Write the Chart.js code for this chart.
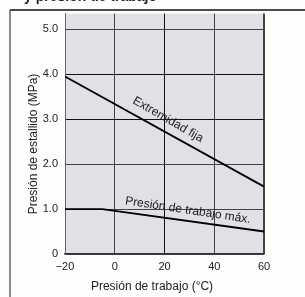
<!DOCTYPE html>
<html>
<head>
<meta charset="utf-8">
<script src="https://cdn.jsdelivr.net/npm/chart.js@4/dist/chart.umd.min.js"></script>
<style>
  html, body { margin: 0; padding: 0; background: #fdfdfb; }
  #wrap { width: 305px; height: 297px; }
</style>
</head>
<body>
<div id="wrap"><canvas id="chart-presion" width="305" height="297"></canvas></div>
<script>
// valores
const tempTicks = [-20, 0, 20, 40, 60];
const presTicks = [0, 1, 2, 3, 4, 5];

const tempFija = [-20, 60];
const presFija = [3.95, 1.5];

const tempMax = [-20, -5, 60];
const presMax = [1.0, 1.0, 0.5];

const labelFija = "Extremidad fija";
const labelMax = "Presión de trabajo máx.";
const yTitle = "Presión de estallido (MPa)";
const xTitle = "Presión de trabajo (°C)";
const topTitle = "y presión de trabajo";

const FONT = "'Liberation Sans', Arial, sans-serif";

const toPoints = (xs, ys) => xs.map((x, i) => ({ x, y: ys[i] }));

const decoPlugin = {
  id: "deco",
  beforeDraw: (chart) => {
    const { ctx, chartArea: a } = chart;
    ctx.save();
    ctx.fillStyle = "#fdfdfb";
    ctx.fillRect(0, 0, chart.width, chart.height);
    ctx.fillStyle = "#e1e1e5";
    ctx.fillRect(a.left, a.top, a.right - a.left, a.bottom - a.top);
    ctx.restore();
  },
  afterDraw: (chart) => {
    const { ctx, scales } = chart;
    const xs = scales.x, ys = scales.y;
    ctx.save();

    // marco exterior
    ctx.strokeStyle = "#666";
    ctx.lineWidth = 1.5;
    ctx.beginPath();
    ctx.moveTo(10, 10);
    ctx.lineTo(10, chart.height);
    ctx.stroke();
    ctx.strokeStyle = "#111";
    ctx.beginPath();
    ctx.moveTo(10, 10);
    ctx.lineTo(chart.width, 10);
    ctx.stroke();

    // titulo cortado arriba
    ctx.fillStyle = "#222";
    ctx.font = "bold 14px " + FONT;
    ctx.textBaseline = "alphabetic";
    ctx.fillText(topTitle, 24, 1);

    // titulos de ejes
    ctx.font = "12px " + FONT;
    ctx.textAlign = "center";
    ctx.textBaseline = "middle";
    ctx.fillText(xTitle, 152, 287);
    ctx.save();
    ctx.translate(33.5, 144);
    ctx.rotate(-Math.PI / 2);
    ctx.fillText(yTitle, 0, 0);
    ctx.restore();

    // etiquetas de las curvas
    const drawLabel = (text, x, y, deg) => {
      ctx.save();
      ctx.translate(xs.getPixelForValue(x), ys.getPixelForValue(y));
      ctx.rotate((deg * Math.PI) / 180);
      ctx.fillText(text, 0, 0);
      ctx.restore();
    };
    drawLabel(labelFija, 21.4, 2.99, 30);
    drawLabel(labelMax, 29.4, 0.97, 8.5);

    ctx.restore();
  },
};

const config = {
  type: "line",
  data: {
    datasets: [
      {
        label: labelFija,
        data: toPoints(tempFija, presFija),
        borderColor: "#000",
        borderWidth: 1.8,
        pointRadius: 0,
      },
      {
        label: labelMax,
        data: toPoints(tempMax, presMax),
        borderColor: "#000",
        borderWidth: 1.8,
        pointRadius: 0,
      },
    ],
  },
  options: {
    responsive: false,
    animation: false,
    layout: { padding: { top: 10, right: 41, left: 0, bottom: 0 } },
    plugins: {
      legend: { display: false },
      tooltip: { enabled: false },
    },
    scales: {
      x: {
        type: "linear",
        min: -20,
        max: 60,
        afterBuildTicks: (scale) => {
          scale.ticks = tempTicks.map((v) => ({ value: v }));
        },
        afterFit: (scale) => {
          scale.height = 43;
        },
        ticks: {
          padding: 6,
          color: "#222",
          font: { size: 11, family: FONT },
          maxRotation: 0,
          callback: (v) => (v < 0 ? "\u2212" + Math.abs(v) : String(v)),
        },
        grid: {
          drawTicks: false,
          color: (c) => (c.tick && c.tick.value === 20 ? "#111" : "#444"),
          lineWidth: (c) => (c.tick && c.tick.value === 60 ? 2 : 1),
        },
        border: { display: true, color: "#333", width: 1.5 },
      },
      y: {
        type: "linear",
        min: 0,
        max: 5.35,
        afterBuildTicks: (scale) => {
          scale.ticks = presTicks.map((v) => ({ value: v }));
        },
        afterFit: (scale) => {
          scale.width = 65;
        },
        ticks: {
          padding: 7,
          color: "#222",
          font: { size: 11, family: FONT },
          callback: (v) => (v === 0 ? "0" : v.toFixed(1)),
        },
        grid: {
          drawTicks: false,
          color: (c) => (c.tick && (c.tick.value === 3 || c.tick.value === 4) ? "#111" : "#444"),
          lineWidth: 1,
        },
        border: { display: true, color: "#666", width: 1 },
      },
    },
  },
  plugins: [decoPlugin],
};

new Chart(document.querySelector("#chart-presion"), config);
</script>
</body>
</html>
